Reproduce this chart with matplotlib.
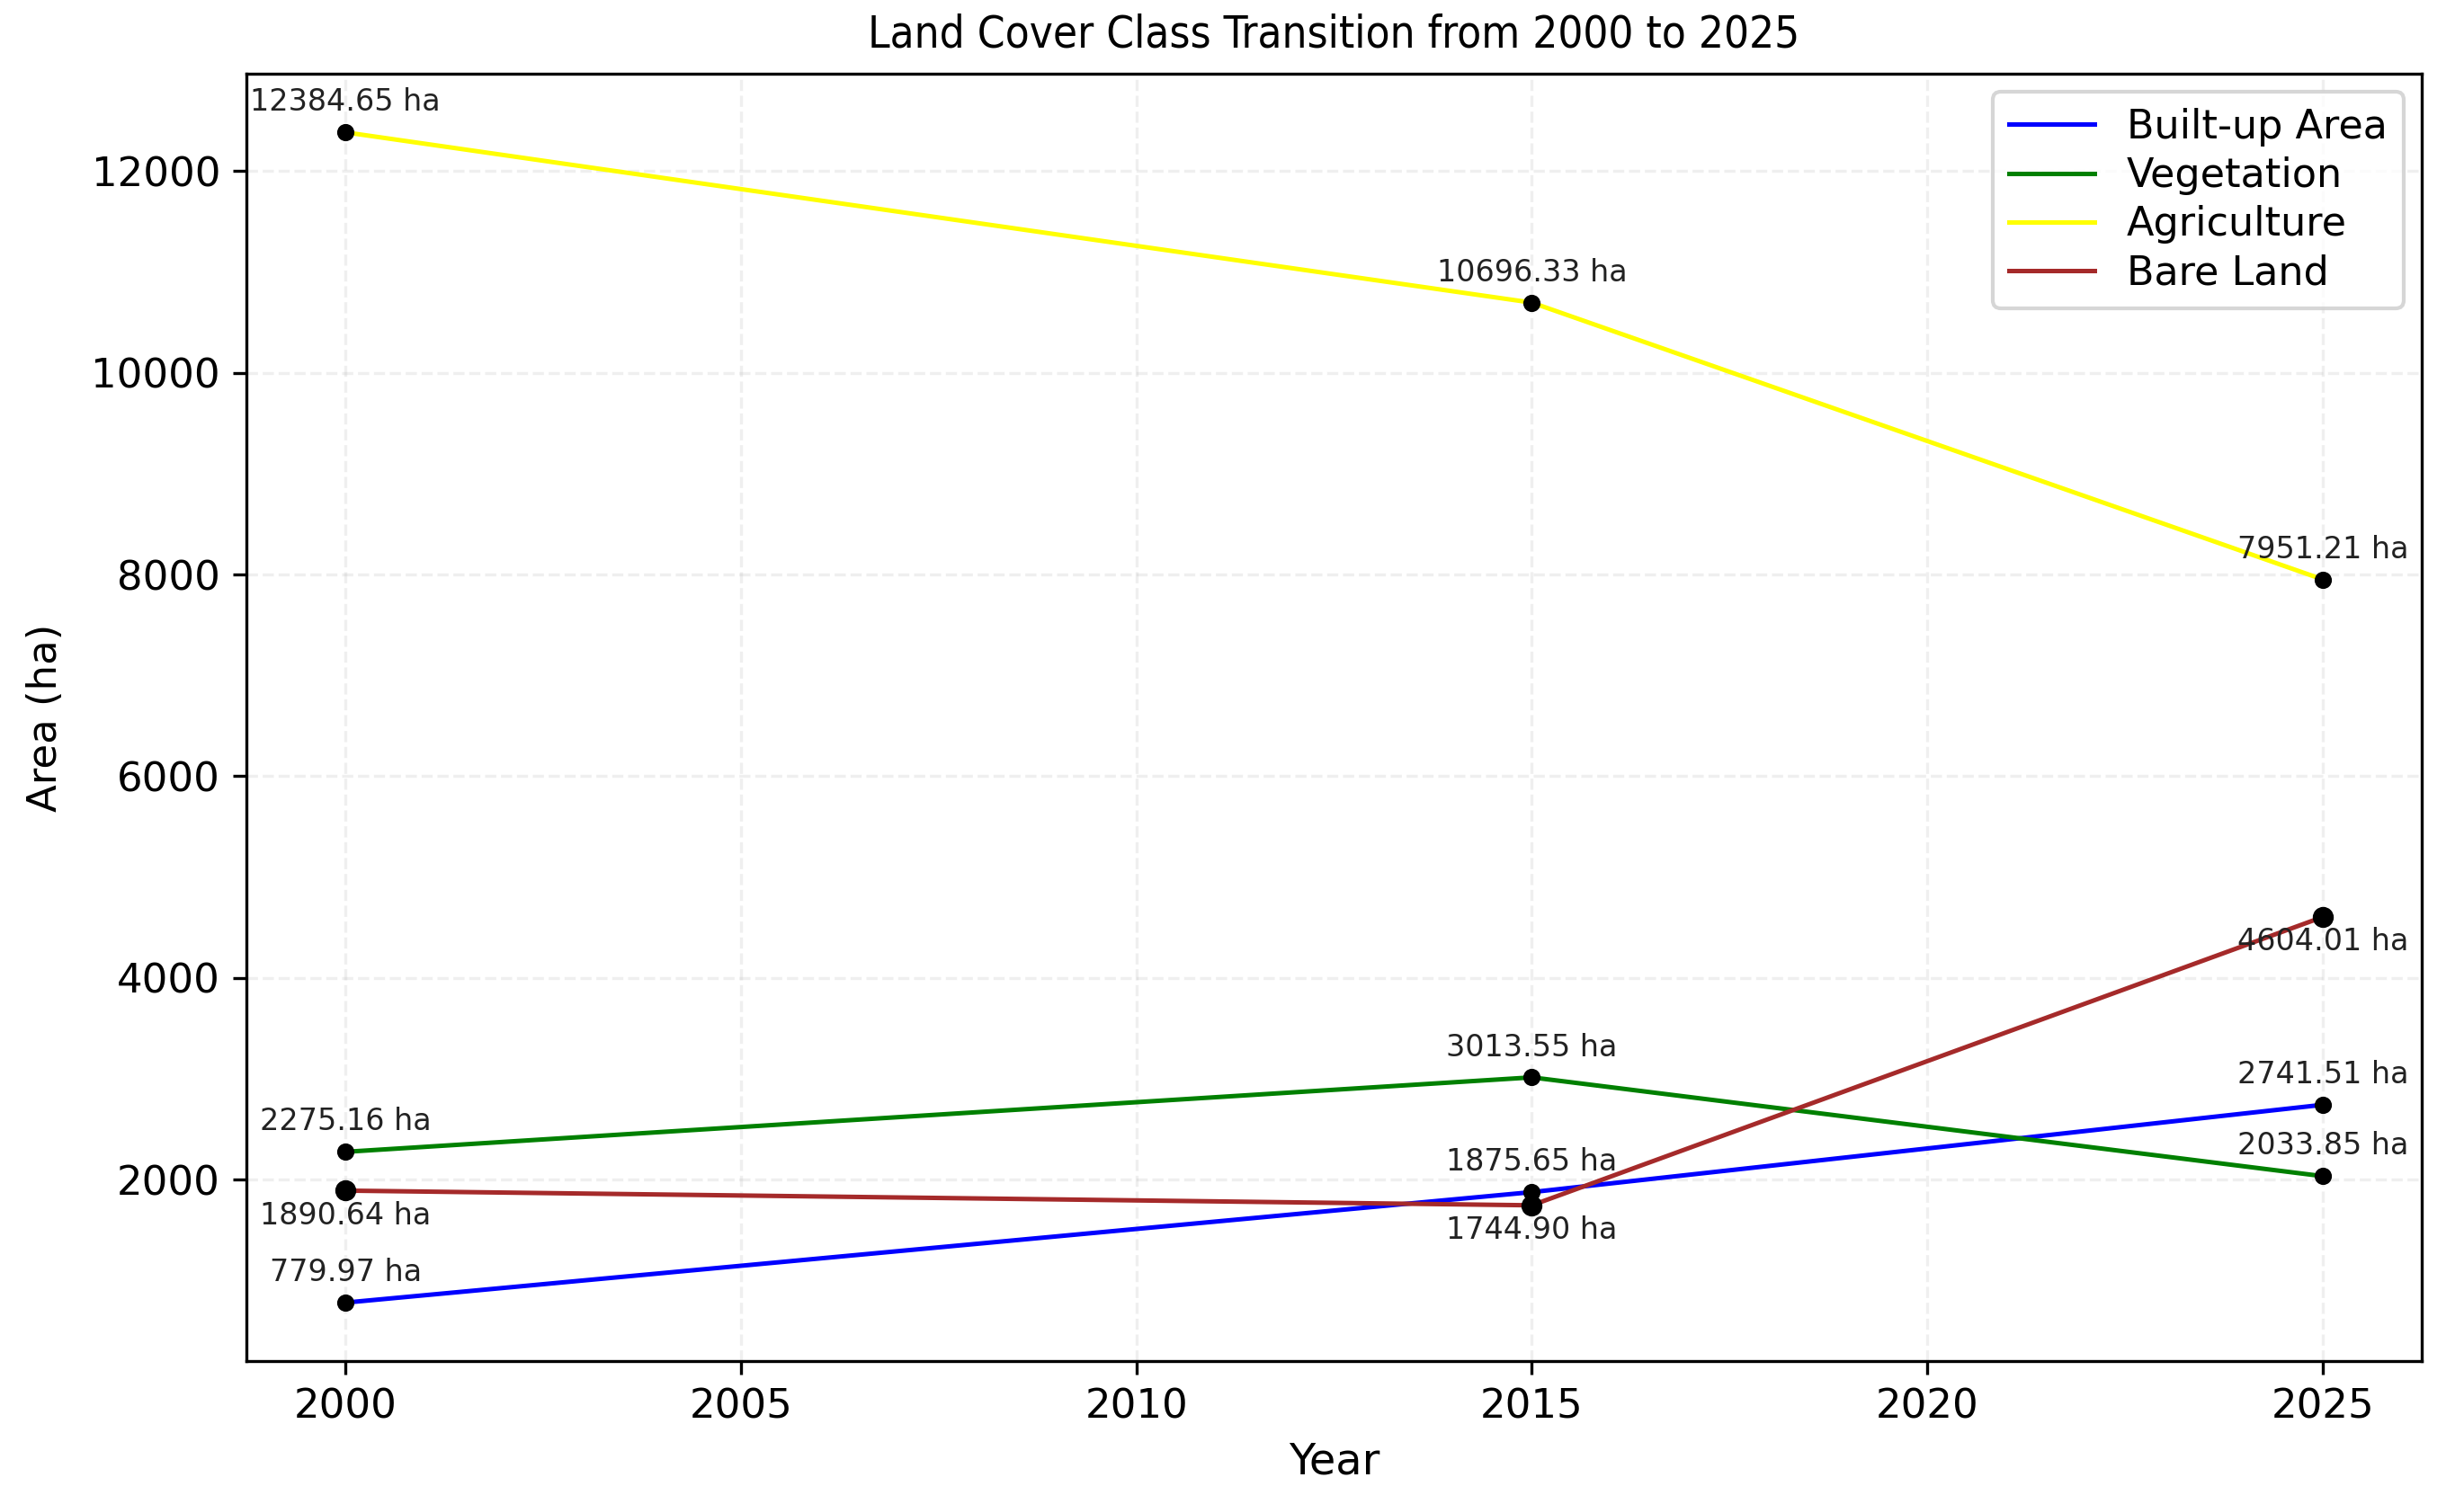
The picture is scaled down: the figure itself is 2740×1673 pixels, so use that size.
import numpy as np
import matplotlib
matplotlib.use("Agg")
from matplotlib import pyplot as plt

# années et surfaces (ha) par classe
years = [2000, 2015, 2025]
built_up = [779.97, 1875.65, 2741.51]
vegetation = [2275.16, 3013.55, 2033.85]
agriculture = [12384.65, 10696.33, 7951.21]
bare_land = [1890.64, 1744.90, 4604.01]

class_names = ["Built-up Area", "Vegetation", "Agriculture", "Bare Land"]
class_colors = ["blue", "green", "yellow", "brown"]
# position des étiquettes : +1 au-dessus, -1 en dessous
label_side = [[1, 1, 1], [1, 1, 1], [1, 1, 1], [-1, -1, -1]]

fig = plt.figure(figsize=(2740 / 300, 1673 / 300), dpi=300)
ax = fig.add_axes([0.1001, 0.0950, 0.8827, 0.8559])

series = [built_up, vegetation, agriculture, bare_land]
for i, values in enumerate(series):
    ax.plot(years, values, color=class_colors[i], linewidth=1.2,
            label=class_names[i])
    msize = 4.6 if class_names[i] == "Bare Land" else 3.6
    ax.plot(years, values, 'o', color='black', markersize=msize, zorder=3)
    for j in range(len(years)):
        dy = 8 if label_side[i][j] > 0 else -6.7
        ax.annotate(f"{values[j]:.2f} ha", (years[j], values[j]),
                    textcoords="offset points", xytext=(0, dy),
                    ha='center', va='center', fontsize=8, color='#222222')

ax.set_title("Land Cover Class Transition from 2000 to 2025",
             fontsize=11.8, fontstretch='condensed', pad=7)
ax.set_xlabel("Year", fontsize=11.5)
ax.set_ylabel("Area (ha)", fontsize=10.8, labelpad=7)
ax.tick_params(labelsize=10.8)
ax.grid(True, linestyle='--', alpha=0.2)
ax.legend(loc='upper right', fontsize=10.7, labelspacing=0.25,
          handlelength=2.15, borderaxespad=0.45)

fig.savefig("out.png", dpi=300)
